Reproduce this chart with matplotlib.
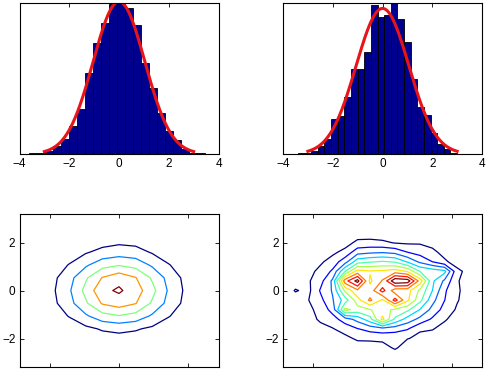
import matplotlib
matplotlib.use("Agg")
import matplotlib.pyplot as plt
import numpy as np

plt.rcParams["font.family"] = ["Liberation Sans", "DejaVu Sans"]
plt.rcParams["font.size"] = 8.5

# --- top row: two histograms with a fitted normal curve ---
edges_a = np.linspace(-3.60, 3.44, 23)
counts_a = [1, 1, 2, 6, 12, 22, 36, 65, 89, 105, 120, 121,
            117, 103, 73, 53, 33, 18, 11, 4, 1, 1]
fit_a = (0.0, 1.04)

edges_b = np.linspace(-3.40, 3.00, 25)
counts_b = [1, 1, 2, 6, 12, 28, 30, 46, 68, 68, 82, 119,
            110, 111, 121, 108, 90, 60, 38, 31, 17, 8, 4, 1]
fit_b = (0.0, 1.06)

hist_ticks = [-4, -2, 0, 2, 4]

# --- bottom row: binned 2-D counts drawn as contours ---
xc_a = [-2.87, -2.39, -1.91, -1.44, -0.96, -0.48, 0.0, 0.48, 0.96, 1.44, 1.91, 2.39, 2.87]
yc_a = [-3.19, -2.66, -2.13, -1.60, -1.06, -0.53, 0.0, 0.53, 1.06, 1.60, 2.13, 2.66, 3.19]
grid_a = [
    [0, 0, 0, 0, 0, 1, 1, 1, 0, 0, 0, 0, 0],
    [0, 0, 0, 1, 2, 3, 3, 3, 2, 1, 0, 0, 0],
    [0, 1, 2, 4, 6, 9, 10, 9, 6, 4, 2, 1, 0],
    [0, 1, 4, 9, 15, 22, 25, 22, 16, 9, 4, 1, 0],
    [1, 3, 10, 21, 37, 53, 59, 53, 37, 21, 10, 3, 1],
    [1, 5, 15, 33, 57, 82, 90, 81, 57, 33, 15, 5, 1],
    [2, 6, 17, 37, 66, 95, 103, 90, 66, 37, 17, 6, 2],
    [1, 5, 15, 33, 57, 81, 93, 81, 57, 33, 15, 5, 1],
    [1, 3, 10, 21, 37, 53, 59, 53, 37, 21, 10, 3, 1],
    [0, 2, 5, 10, 18, 26, 30, 28, 18, 10, 5, 2, 0],
    [0, 1, 2, 4, 7, 10, 13, 11, 7, 4, 2, 1, 0],
    [0, 0, 0, 1, 2, 3, 3, 3, 2, 1, 0, 0, 0],
    [0, 0, 0, 0, 0, 1, 1, 1, 0, 0, 0, 0, 0],
]
levels_a = [20, 40, 60, 80, 100]

xc_b = [-2.87, -2.51, -2.15, -1.79, -1.44, -1.08, -0.72, -0.36, 0.0,
        0.36, 0.72, 1.08, 1.44, 1.79, 2.15, 2.51, 2.87]
yc_b = [-3.19, -2.79, -2.39, -1.99, -1.60, -1.20, -0.80, -0.40, 0.0,
        0.40, 0.80, 1.20, 1.60, 1.99, 2.39, 2.79, 3.19]
grid_b = [
    [0, 0, 0, 0, 0, 0, 0, 0, 0, 0, 0, 0, 0, 0, 0, 0, 0],
    [0, 0, 0, 0, .1, .1, .15, .19, .2, .2, .16, .12, .08, .05, 0, 0, 0],
    [0, 0, .06, .12, .2, .31, .42, .51, .55, 1.15, .45, .34, .23, .14, .07, 0, 0],
    [0, .07, .14, .28, .47, .72, 1.2, 1.2, 1.29, 1.24, 1.05, .8, .54, .33, .17, .08, 0],
    [.05, .13, .28, .6, .93, 1.43, 1.95, 2.36, 2.55, 2.44, 2.08, 1.1, 1.06, .65, .35, .17, .07],
    [.09, .22, .49, 1.2, 1.6, 2.46, 3.35, 4.6, 7.3, 4.8, 3.58, 2.7, 1.83, 1.11, .59, .28, .12],
    [.14, .32, .71, 1.38, 2.34, 6.3, 5.6, 5.95, 6.4, 5.8, 5.23, 3.96, 2.67, 1.62, .87, .42, .17],
    [.17, .4, .95, 1.72, 2.91, 4.47, 6.6, 8.2, 6.8, 9.4, 7.2, 5.3, 3.33, 2.02, 1.08, .52, .22],
    [.18, 1.1, .7, 2.1, 3.1, 6.2, 7.8, 7.4, 9.4, 7.4, 7.4, 5.8, 4.0, 2.15, 1.15, .55, .23],
    [.16, .4, .85, 1.65, 3.2, 8.6, 10.4, 6.8, 8.1, 10.8, 10.6, 7.6, 4.2, 2.8, 1.1, .5, .21],
    [.13, .3, .66, 1.28, 2.17, 5.0, 7.4, 7.1, 7.2, 7.5, 6.9, 5.0, 4.6, 4.3, 1.3, .6, .16],
    [.08, .2, .43, .84, 1.42, 2.6, 4.6, 4.9, 5.1, 4.9, 3.9, 2.8, 2.0, 1.2, .5, .25, .1],
    [.05, .11, .24, .47, .79, 1.3, 2.6, 2.8, 2.9, 2.7, 2.0, 1.6, 1.3, .6, .29, .14, .06],
    [0, .05, .12, .23, .39, .6, 1.25, 1.3, 1.2, .95, .87, .9, .6, .27, .14, .07, 0],
    [0, 0, .05, .09, .16, .24, .5, .5, .43, .41, .35, .27, .18, .11, .06, 0, 0],
    [0, 0, 0, 0, .05, .08, .12, .14, .15, .14, .12, .1, .06, 0, 0, 0, 0],
    [0, 0, 0, 0, 0, 0, 0, 0, 0, 0, 0, 0, 0, 0, 0, 0, 0],
]
levels_b = [1, 2, 3, 4, 5, 6, 7, 8, 9, 10]
contour_ticks = [-2, 0, 2]

BAR_COLOR = (0, 0, 0.5625)


def style_box(ax):
    """MATLAB-like box: inward ticks on all four sides."""
    ax.tick_params(direction="in", top=True, right=True, length=3, width=0.6, pad=3)
    for s in ax.spines.values():
        s.set_linewidth(0.8)


def draw_hist(ax, edges, counts, fit):
    edges = np.asarray(edges)
    counts = np.asarray(counts, dtype=float)
    width = edges[1] - edges[0]
    ax.bar(edges[:-1], counts, width=width, align="edge",
           color=BAR_COLOR, edgecolor="black", linewidth=0.6)
    mu, sigma = fit
    xs = np.linspace(-3.0, 3.0, 300)
    pdf = np.exp(-0.5 * ((xs - mu) / sigma) ** 2) / (sigma * np.sqrt(2 * np.pi))
    ax.plot(xs, counts.sum() * width * pdf, color="#e8141a", linewidth=2.2)
    ax.set_xlim(-4, 4)
    ax.set_ylim(0, counts.max())
    ax.set_xticks(hist_ticks)
    ax.set_yticks([])
    style_box(ax)


def draw_contour(ax, xc, yc, grid, levels):
    ax.contour(xc, yc, np.asarray(grid, dtype=float), levels=levels,
               cmap="jet", linewidths=0.9)
    ax.set_xlim(xc[0], xc[-1])
    ax.set_ylim(yc[0], yc[-1])
    ax.set_xticks(contour_ticks)
    ax.set_yticks(contour_ticks)
    ax.tick_params(labelbottom=False)
    style_box(ax)


fig = plt.figure(figsize=(5.0, 3.7), dpi=100)
ax1 = fig.add_axes([0.039, 0.584, 0.398, 0.408])
ax2 = fig.add_axes([0.566, 0.584, 0.398, 0.408])
ax3 = fig.add_axes([0.039, 0.008, 0.398, 0.4135])
ax4 = fig.add_axes([0.566, 0.008, 0.398, 0.4135])

draw_hist(ax1, edges_a, counts_a, fit_a)
draw_hist(ax2, edges_b, counts_b, fit_b)
draw_contour(ax3, xc_a, yc_a, grid_a, levels_a)
draw_contour(ax4, xc_b, yc_b, grid_b, levels_b)

fig.savefig("out.png", dpi=100)
